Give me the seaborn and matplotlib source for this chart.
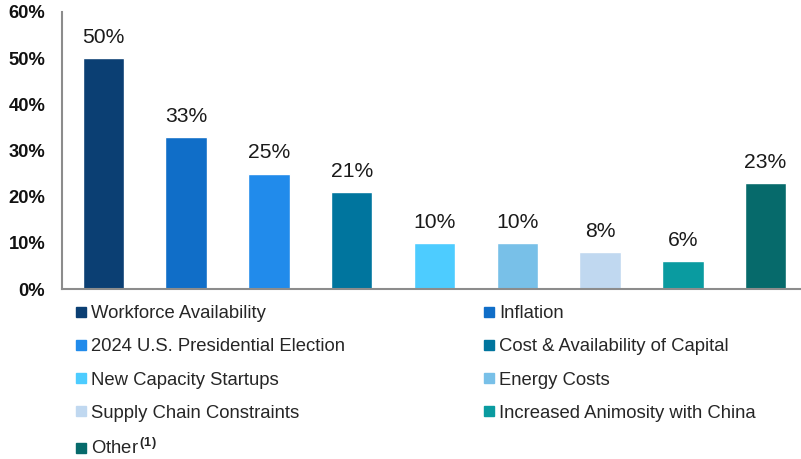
import matplotlib
matplotlib.use("Agg")
import matplotlib.pyplot as plt
from matplotlib.lines import Line2D
import seaborn as sns
import pandas as pd

# Survey results: share of respondents naming each concern
categories = [
    "Workforce Availability",
    "Inflation",
    "2024 U.S. Presidential Election",
    "Cost & Availability of Capital",
    "New Capacity Startups",
    "Energy Costs",
    "Supply Chain Constraints",
    "Increased Animosity with China",
    "Other",
]
legend_labels = categories[:-1] + ["Other$^{\\,\\mathbf{(1)}}$"]
values = [50, 33, 25, 21, 10, 10, 8, 6, 23]
colors = [
    "#0B3F73", "#106EC8", "#218BEB", "#00759E", "#4DCCFF",
    "#78C0E8", "#C0D8F0", "#0A9BA0", "#066A6B",
]
y_ticks = [0, 10, 20, 30, 40, 50, 60]

sns.set_theme(style="white")
plt.rcParams["font.family"] = ["Liberation Sans", "DejaVu Sans"]
plt.rcParams["mathtext.fontset"] = "custom"
plt.rcParams["mathtext.rm"] = "Liberation Sans"
plt.rcParams["mathtext.bf"] = "Liberation Sans:bold"

df = pd.DataFrame({"category": categories, "value": values})

fig = plt.figure(figsize=(8.01, 4.59), dpi=100)
ax = fig.add_axes([62 / 801, 170 / 459, 745 / 801, 277 / 459])

sns.barplot(
    data=df, x="category", y="value", hue="category",
    palette=colors, order=categories, hue_order=categories,
    width=0.5, dodge=False, legend=False, saturation=1, ax=ax,
)

for container in ax.containers:
    ax.bar_label(container, fmt="%.0f%%", padding=8, fontsize=15.2, color="#1a1a1a")

axis_grey = "#8c8c8c"
ax.set_xlim(-0.5, 8.5)
ax.set_ylim(0, 60)
ax.set_yticks(y_ticks)
ax.set_yticklabels([f"{t}%" for t in y_ticks], fontsize=13.2, fontweight="bold", color="#111111")
ax.set_xticks([i + 0.5 for i in range(-1, 9)])
ax.set_xticklabels([])
ax.set_xlabel("")
ax.set_ylabel("")
for side in ("top", "right"):
    ax.spines[side].set_visible(False)
for side in ("left", "bottom"):
    ax.spines[side].set_color(axis_grey)
    ax.spines[side].set_linewidth(1.5)
ax.tick_params(axis="y", direction="out", length=4, width=1.2, color=axis_grey, pad=8)
ax.tick_params(axis="x", direction="out", length=4, width=1.0, color=axis_grey)

# Two-column legend, filled row by row
handles = [
    Line2D([], [], marker="s", linestyle="", color=c, markersize=6.5)
    for c in colors
]
order = [0, 2, 4, 6, 8, 1, 3, 5, 7]
fig.legend(
    [handles[i] for i in order],
    [legend_labels[i] for i in order],
    loc="upper left",
    bbox_to_anchor=(76 / 801, 1 - 305 / 459),
    ncol=2,
    frameon=False,
    fontsize=13.3,
    handlelength=0.5,
    handletextpad=0.3,
    columnspacing=7.55,
    labelspacing=0.88,
    borderpad=0,
    borderaxespad=0,
)

fig.savefig("out.png", dpi=100)
